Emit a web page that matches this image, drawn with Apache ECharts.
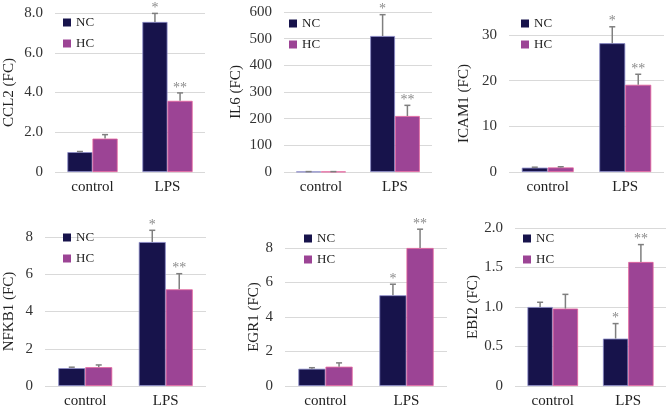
<!DOCTYPE html>
<html><head><meta charset="utf-8">
<script src="https://cdn.jsdelivr.net/npm/echarts@6/dist/echarts.min.js"></script>
<style>html,body{margin:0;padding:0;background:#fff}#c{width:666px;height:409px}</style>
</head><body><div id="c"></div>
<script>
var categories = ['control', 'LPS'];
var genes = ['CCL2', 'IL6', 'ICAM1', 'NFKB1', 'EGR1', 'EBI2'];
var yMax = [8, 600, 30, 8, 8, 2];
var yInterval = [2, 100, 10, 2, 2, 0.5];
var yDecimals = [1, 0, 0, 0, 0, 1];

var ncCCL2 = [1.0, 7.55], ncErrCCL2 = [0.03, 0.43], hcCCL2 = [1.68, 3.58], hcErrCCL2 = [0.2, 0.4];
var ncIL6 = [1, 510], ncErrIL6 = [0.5, 80], hcIL6 = [1, 210], hcErrIL6 = [0.5, 40];
var ncICAM1 = [0.95, 28.2], ncErrICAM1 = [0.1, 3.6], hcICAM1 = [1.0, 19.1], hcErrICAM1 = [0.15, 2.3];
var ncNFKB1 = [0.96, 7.73], ncErrNFKB1 = [0.05, 0.63], hcNFKB1 = [1.01, 5.19], hcErrNFKB1 = [0.12, 0.84];
var ncEGR1 = [1.0, 5.26], ncErrEGR1 = [0.06, 0.64], hcEGR1 = [1.12, 8.0], hcErrEGR1 = [0.22, 1.09];
var ncEBI2 = [1.0, 0.6], ncErrEBI2 = [0.06, 0.19], hcEBI2 = [0.98, 1.57], hcErrEBI2 = [0.18, 0.22];

var ncStars = ['', '*'];
var hcStars = ['', '**'];

var ncAll = [ncCCL2, ncIL6, ncICAM1, ncNFKB1, ncEGR1, ncEBI2];
var ncErrAll = [ncErrCCL2, ncErrIL6, ncErrICAM1, ncErrNFKB1, ncErrEGR1, ncErrEBI2];
var hcAll = [hcCCL2, hcIL6, hcICAM1, hcNFKB1, hcEGR1, hcEBI2];
var hcErrAll = [hcErrCCL2, hcErrIL6, hcErrICAM1, hcErrNFKB1, hcErrEGR1, hcErrEBI2];

// layout (pixels)
var grids = [
  {left: 55, top: 13, width: 150, height: 159},
  {left: 284, top: 12, width: 148, height: 160},
  {left: 509, top: 35, width: 155, height: 137},
  {left: 45, top: 237, width: 161, height: 150},
  {left: 285, top: 248, width: 162, height: 140},
  {left: 515, top: 228, width: 151, height: 160}
];
var titleX = [9, 235.5, 464, 9, 253.5, 473.5];
var legendPos = [[63, 16], [289, 17], [521, 17], [63, 231], [304, 232], [523, 232]];

var FONT = 'Liberation Serif';
var CAT_GAP = 0.33;
var NC_COLOR = '#17134b', HC_COLOR = '#9c4495';

function renderErr(params, api) {
  var cat = api.value(0), val = api.value(1), err = api.value(2), side = api.value(3);
  var star = (side < 0 ? ncStars : hcStars)[cat];
  var base = api.coord([cat, val]);
  var top = api.coord([cat, val + err]);
  var catW = api.size([1, 0])[0];
  var bw = catW * (1 - CAT_GAP) / 2;
  var x = base[0] + side * bw / 2;
  var st = {stroke: '#7f7f7f', lineWidth: 1.5};
  return {type: 'group', children: [
    {type: 'line', shape: {x1: x, y1: base[1], x2: x, y2: top[1]}, style: st},
    {type: 'line', shape: {x1: x - 3, y1: top[1], x2: x + 3, y2: top[1]}, style: st},
    {type: 'text', style: {text: star, x: x, y: top[1] + 2, textAlign: 'center', textVerticalAlign: 'bottom',
      fill: '#8a8a8a', font: '14px ' + FONT}}
  ]};
}

var option = {animation: false, backgroundColor: '#fff', grid: [], xAxis: [], yAxis: [], series: [], legend: []};
for (var i = 0; i < 6; i++) {
  option.grid.push(grids[i]);
  option.xAxis.push({type: 'category', gridIndex: i, data: categories,
    axisLine: {show: false}, axisTick: {show: false},
    axisLabel: {color: '#222', fontFamily: FONT, fontSize: 15, margin: 8}});
  (function (dec) {
    option.yAxis.push({type: 'value', gridIndex: i, min: 0, max: yMax[i], interval: yInterval[i],
      name: genes[i] + ' (FC)', nameLocation: 'middle', nameGap: grids[i].left - titleX[i] - 8,
      nameTextStyle: {color: '#222', fontFamily: FONT, fontSize: 15},
      axisLine: {show: false}, axisTick: {show: false},
      splitLine: {lineStyle: {color: '#d9d9d9', width: 1}},
      axisLabel: {color: '#333', fontFamily: FONT, fontSize: 15, margin: 12,
        formatter: function (v) { return v === 0 ? '0' : v.toFixed(dec); }}});
  })(yDecimals[i]);
  option.series.push({type: 'bar', name: 'NC', xAxisIndex: i, yAxisIndex: i, data: ncAll[i],
    barGap: '0%', barCategoryGap: '33%',
    itemStyle: {color: NC_COLOR, borderColor: '#8a8ac8', borderWidth: 0.8}});
  option.series.push({type: 'bar', name: 'HC', xAxisIndex: i, yAxisIndex: i, data: hcAll[i],
    barGap: '0%', barCategoryGap: '33%',
    itemStyle: {color: HC_COLOR, borderColor: '#e4629c', borderWidth: 0.8}});
  var errData = [];
  for (var k = 0; k < categories.length; k++) {
    errData.push([k, ncAll[i][k], ncErrAll[i][k], -1]);
    errData.push([k, hcAll[i][k], hcErrAll[i][k], 1]);
  }
  option.series.push({type: 'custom', xAxisIndex: i, yAxisIndex: i, renderItem: renderErr,
    data: errData, clip: false, z: 5, silent: true});
  option.legend.push({data: ['NC', 'HC'], orient: 'vertical', left: legendPos[i][0], top: legendPos[i][1],
    icon: 'rect', itemWidth: 8, itemHeight: 8, itemGap: 8, padding: 0,
    itemStyle: {borderWidth: 0},
    textStyle: {color: '#222', fontFamily: FONT, fontSize: 13}});
}
var chart = echarts.init(document.getElementById('c'), null, {renderer: 'canvas'});
chart.setOption(option);
</script></body></html>
